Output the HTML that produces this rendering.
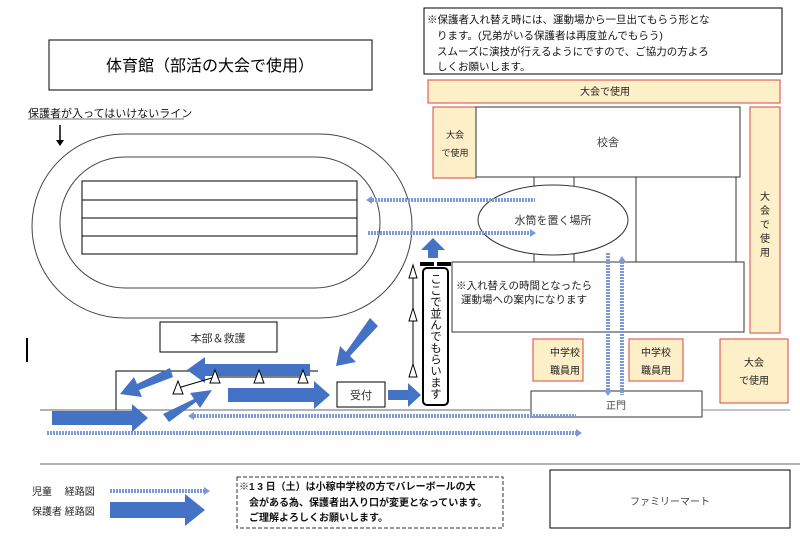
<!DOCTYPE html>
<html><head><meta charset="utf-8"><style>
body{margin:0;background:#fff}
svg text{font-family:"Liberation Sans","Noto Sans CJK JP",sans-serif}
</style></head><body>
<svg width="800" height="542" viewBox="0 0 800 542" xmlns="http://www.w3.org/2000/svg">
<!-- title -->
<rect x="49" y="40" width="323" height="50" fill="#fff" stroke="#000"/>
<text x="210" y="71" font-size="16" text-anchor="middle">体育館（部活の大会で使用）</text>
<!-- note top -->
<rect x="424" y="8" width="358" height="66" fill="#fff" stroke="#000"/>
<text font-size="10.5" fill="#111">
<tspan x="427" y="23">※保護者入れ替え時には、運動場から一旦出てもらう形とな</tspan>
<tspan x="437" y="39">ります。(兄弟がいる保護者は再度並んでもらう)</tspan>
<tspan x="437" y="55">スムーズに演技が行えるようにですので、ご協力の方よろ</tspan>
<tspan x="437" y="70">しくお願いします。</tspan></text>
<!-- orange -->
<g fill="#fdefc8" stroke="#d9463f">
<rect x="428" y="80" width="352" height="23"/>
<rect x="433" y="107" width="43" height="71"/>
<rect x="750" y="107" width="30" height="226"/>
<rect x="533" y="339" width="50" height="42"/>
<rect x="629" y="339" width="54" height="42"/>
<rect x="720" y="339" width="68" height="64"/>
</g>
<g font-size="10" text-anchor="middle" fill="#222">
<text x="605" y="95">大会で使用</text>
<text x="455" y="138" font-size="9">大会</text><text x="455" y="156" font-size="9">で使用</text>
<text x="565" y="356">中学校</text><text x="565" y="374">職員用</text>
<text x="656" y="356">中学校</text><text x="656" y="374">職員用</text>
<text x="754" y="366">大会</text><text x="754" y="384">で使用</text>
<text x="765" y="200">大</text><text x="765" y="214">会</text><text x="765" y="228">で</text><text x="765" y="242">使</text><text x="765" y="256">用</text>
</g>
<!-- building -->
<g fill="#fff" stroke="#333">
<rect x="476" y="107" width="264" height="70"/>
<rect x="534" y="177" width="40" height="85"/>
<rect x="636" y="177" width="100" height="85"/>
<rect x="452" y="262" width="292" height="70"/>
<ellipse cx="553" cy="220" rx="75" ry="35"/>
<rect x="531" y="391" width="171" height="26"/>
</g>
<text x="608" y="146" font-size="11" text-anchor="middle" fill="#444">校舎</text>
<text x="553" y="224" font-size="11" text-anchor="middle" fill="#333">水筒を置く場所</text>
<text x="616" y="409" font-size="10" text-anchor="middle" fill="#444">正門</text>
<text font-size="10.5" fill="#222"><tspan x="456" y="289">※入れ替えの時間となったら</tspan><tspan x="461" y="303">運動場への案内になります</tspan></text>
<line x1="702" y1="410" x2="790" y2="410" stroke="#888"/>
<!-- track -->
<rect x="32" y="134" width="380" height="184" rx="92" fill="#fff" stroke="#444"/>
<rect x="60" y="157" width="320" height="131" rx="65" fill="#fff" stroke="#444"/>
<rect x="82" y="181" width="275" height="73" fill="#fff" stroke="#000"/>
<g stroke="#000"><line x1="82" y1="200" x2="357" y2="200"/><line x1="82" y1="218" x2="357" y2="218"/><line x1="82" y1="236" x2="357" y2="236"/></g>
<text x="28" y="117" font-size="11" fill="#111">保護者が入ってはいけないライン</text>
<line x1="28" y1="119" x2="184" y2="119" stroke="#777"/>
<line x1="60" y1="125" x2="60" y2="142" stroke="#000" stroke-width="1.5"/>
<path d="M56,140 L60,146 L64,140Z" fill="#000"/>
<!-- ground lines -->
<line x1="40" y1="410" x2="531" y2="410" stroke="#999" stroke-width="1.5"/>
<line x1="40" y1="464" x2="800" y2="464" stroke="#666"/>
<path d="M116,410 V371 H318" fill="none" stroke="#000"/>
<line x1="27" y1="338" x2="27" y2="362" stroke="#000" stroke-width="2"/>
<!-- boxes -->
<rect x="160" y="322" width="117" height="30" fill="#fff" stroke="#000"/>
<text x="218" y="342" font-size="11" text-anchor="middle" fill="#333">本部＆救護</text>
<rect x="337" y="382" width="48" height="25" fill="#fff" stroke="#000"/>
<text x="361" y="399" font-size="11" text-anchor="middle" fill="#333">受付</text>
<rect x="423" y="268" width="25" height="137" rx="4" fill="#fff" stroke="#000" stroke-width="2"/>
<text x="435" y="273" font-size="11.5" fill="#111" style="writing-mode:vertical-rl">ここで並んでもらいます</text>
<rect x="420" y="262" width="14" height="4" fill="#000"/><rect x="437" y="262" width="14" height="4" fill="#000"/>
<!-- children dashed arrows -->
<g stroke="#7e9ad6" stroke-width="4" stroke-dasharray="2 1" fill="none">
<line x1="372" y1="200" x2="535" y2="200"/>
<line x1="368" y1="233" x2="530" y2="233"/>
<line x1="608" y1="253" x2="608" y2="392"/>
<line x1="622" y1="262" x2="622" y2="395"/>
<line x1="194" y1="416" x2="576" y2="416"/>
<line x1="47" y1="433" x2="576" y2="433"/>
<line x1="110" y1="491" x2="205" y2="491"/>
</g>
<g fill="#7e9ad6">
<path d="M366,200 l6,-4 v8z"/><path d="M536,233 l-6,-4 v8z"/>
<path d="M608,396 l-4,-6 h8z"/><path d="M622,256 l-4,6 h8z"/>
<path d="M188,416 l6,-4 v8z"/><path d="M582,433 l-6,-4 v8z"/><path d="M210,491 l-6,-4 v8z"/>
</g>
<!-- parent arrows -->
<g fill="#4472c4">
<path d="M428,258 h10 v-8 h7 l-12,-12 l-12,12 h7z"/>
<path d="M52,411 h80 v-7 l16,14 l-16,14 v-7 h-80z"/>
<path d="M228,388 h86 v-7 l16,14 l-16,14 v-7 h-86z"/>
<path d="M388,390 h20 v-7 l13,12 l-13,12 v-7 h-20z"/>
<path d="M310,364 h-105 v-7 l-18,13 l18,13 v-7 h105z"/>
<path d="M370,318 l8,8 l-28,30 l6,6 l-20,4 l4,-20 l6,6z"/>
<path d="M170,368 l3,9 l-34,13 l3,7 l-22,-3 l14,-17 l3,7z"/>
<path d="M163,414 l6,8 l27,-20 l4,6 l12,-18 l-22,3 l4,6z"/>
<path d="M110,502 h75 v-8 l20,16 l-20,16 v-8 h-75z"/>
</g>
<!-- cones -->
<g stroke="#000" fill="#fff">
<line x1="215" y1="377" x2="303" y2="377"/><line x1="178" y1="388" x2="215" y2="377"/>
<line x1="413" y1="275" x2="413" y2="370"/>
<path d="M178,381 l-5,13 h10z"/><path d="M215,370 l-5,13 h10z"/><path d="M259,370 l-5,13 h10z"/><path d="M303,370 l-5,13 h10z"/>
<path d="M413,265 l-4,13 h8z"/><path d="M413,308 l-4,13 h8z"/><path d="M413,364 l-4,13 h8z"/>
</g>
<!-- legend -->
<text x="32" y="495" font-size="10" fill="#222">児童　 経路図</text>
<text x="32" y="515" font-size="10" fill="#222">保護者  経路図</text>
<rect x="237" y="477" width="266" height="51" fill="#fff" stroke="#333" stroke-dasharray="4 2"/>
<text font-size="10" font-weight="bold" fill="#111"><tspan x="239" y="490">※1 3 日（土）は小稼中学校の方でバレーボールの大</tspan><tspan x="249" y="506">会がある為、保護者出入り口が変更となっています。</tspan><tspan x="249" y="521">ご理解よろしくお願いします。</tspan></text>
<rect x="550" y="470" width="240" height="58" fill="#fff" stroke="#000"/>
<text x="670" y="505" font-size="10" text-anchor="middle" fill="#444">ファミリーマート</text>
</svg>
</body></html>
